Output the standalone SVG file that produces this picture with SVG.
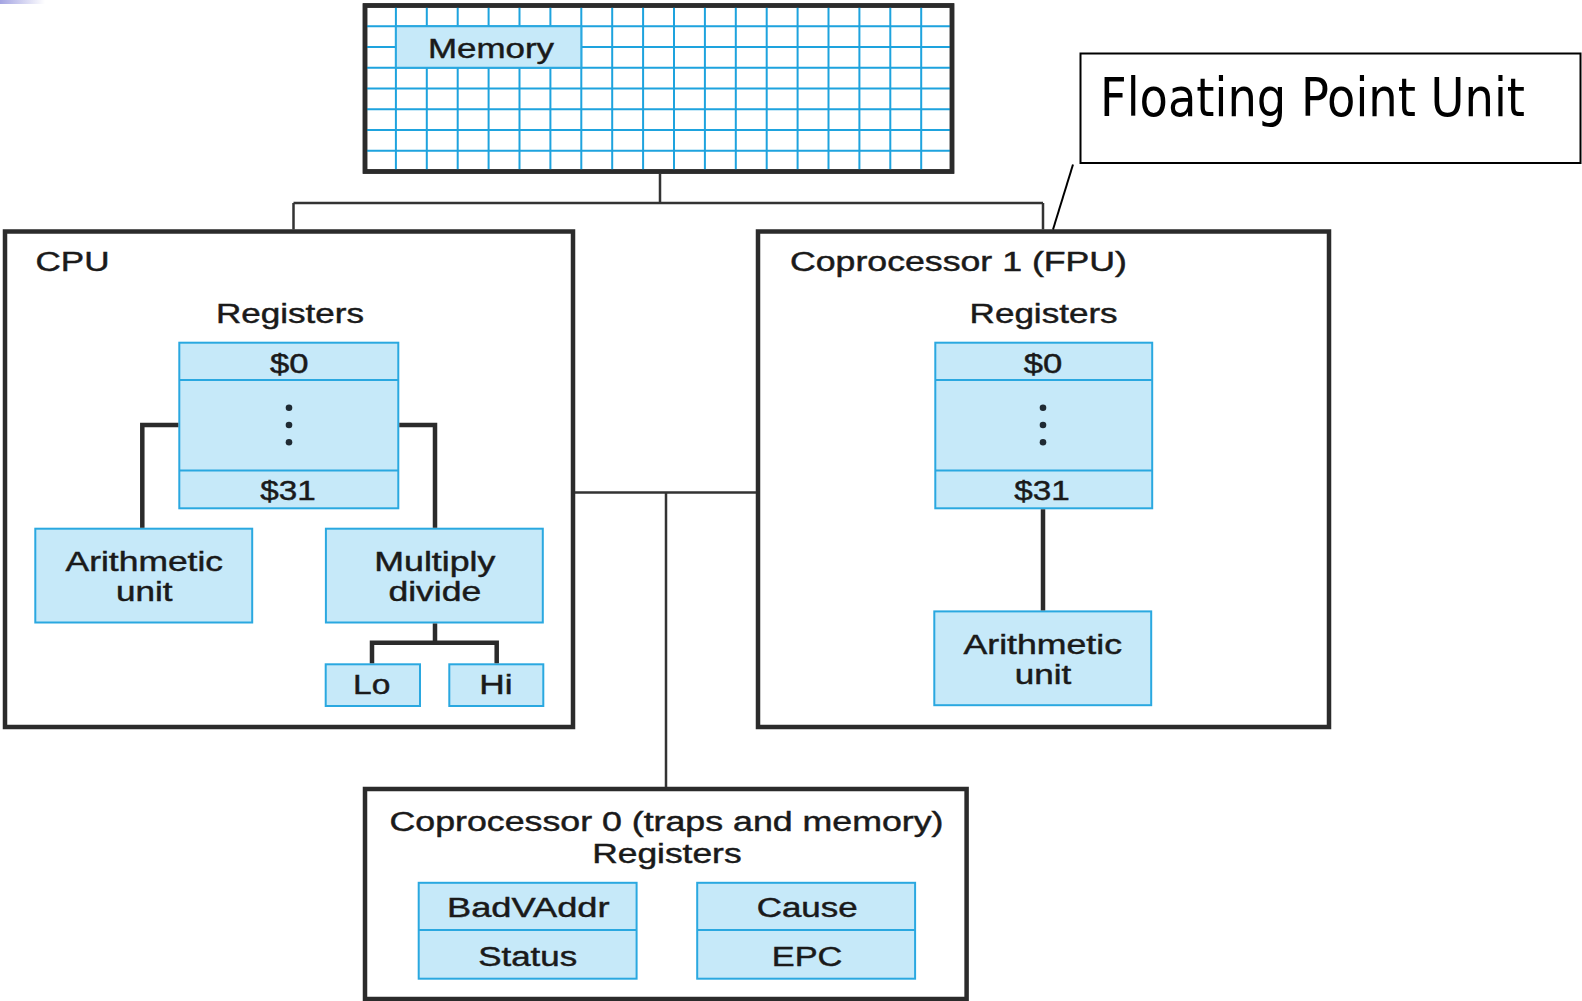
<svg xmlns="http://www.w3.org/2000/svg" width="1582" height="1001" viewBox="0 0 1582 1001">
<defs>
<linearGradient id="corner" x1="0" y1="0" x2="1" y2="0">
<stop offset="0" stop-color="#a4a4e2"/>
<stop offset="1" stop-color="#ffffff"/>
</linearGradient>
</defs>
<style>
.frame{fill:#ffffff;stroke:#2b2b2b;stroke-width:4.5}
.cell{fill:#c6e9f9;stroke:#2aa8e0;stroke-width:2}
.div{stroke:#2aa8e0;stroke-width:2}
.grid{stroke:#1ea3de;stroke-width:2}
.wire{fill:none;stroke:#2b2b2b;stroke-width:4.5}
.bus{fill:none;stroke:#333333;stroke-width:2.5}
.t{font-family:"Liberation Sans",Arial,sans-serif;font-size:27px;fill:#1a1a1a;stroke:#1a1a1a;stroke-width:0.45}
.dot{fill:#1f2a33}
</style>
<rect x="0" y="0" width="45" height="4" fill="url(#corner)"/>

<g id="memory">
<rect class="frame" x="365" y="5.5" width="587" height="166"/>
<g class="grid">
<path d="M395.9 5.5V171.5M426.8 5.5V171.5M457.7 5.5V171.5M488.6 5.5V171.5M519.5 5.5V171.5M550.4 5.5V171.5M581.3 5.5V171.5M612.2 5.5V171.5M643.1 5.5V171.5M674 5.5V171.5M704.9 5.5V171.5M735.8 5.5V171.5M766.7 5.5V171.5M797.6 5.5V171.5M828.5 5.5V171.5M859.4 5.5V171.5M890.3 5.5V171.5M921.2 5.5V171.5"/>
<path d="M365 26.25H952M365 47H952M365 67.75H952M365 88.5H952M365 109.25H952M365 130H952M365 150.75H952"/>
</g>
<rect x="365" y="5.5" width="587" height="166" fill="none" stroke="#2b2b2b" stroke-width="4.5"/>
<rect class="cell" x="395.9" y="26.25" width="185.4" height="41.5"/>
<text class="t" x="428" y="57.5" textLength="126" lengthAdjust="spacingAndGlyphs">Memory</text>
</g>

<g id="fpu-callout">
<rect x="1080.5" y="53.5" width="500" height="109.5" fill="#ffffff" stroke="#000000" stroke-width="2"/>
<text x="1100" y="115.5" font-family="'DejaVu Sans Condensed','DejaVu Sans',sans-serif" font-size="54" fill="#000000" textLength="425" lengthAdjust="spacingAndGlyphs">Floating Point Unit</text>
</g>

<g id="cpu">
<rect class="frame" x="5" y="231.5" width="568" height="495.5"/>
<text class="t" x="35.5" y="270.5" textLength="74" lengthAdjust="spacingAndGlyphs">CPU</text>
<text class="t" x="216" y="323.2" textLength="148" lengthAdjust="spacingAndGlyphs">Registers</text>
</g>

<g id="cpu-registers">
<rect class="cell" x="179.3" y="342.7" width="219" height="165.6"/>
<path class="div" d="M179.3 380H398.3M179.3 470.5H398.3"/>
<text class="t" x="270" y="372.7" textLength="38.5" lengthAdjust="spacingAndGlyphs">$0</text>
<circle class="dot" cx="289" cy="407.7" r="3.3"/>
<circle class="dot" cx="289" cy="425" r="3.3"/>
<circle class="dot" cx="289" cy="442.3" r="3.3"/>
<text class="t" x="260.3" y="499.5" textLength="55.5" lengthAdjust="spacingAndGlyphs">$31</text>
</g>

<g id="cpu-arith">
<rect class="cell" x="35.3" y="528.7" width="216.9" height="93.8"/>
<text class="t" x="65.6" y="571" textLength="157.4" lengthAdjust="spacingAndGlyphs">Arithmetic</text>
<text class="t" x="116" y="600.5" textLength="56.5" lengthAdjust="spacingAndGlyphs">unit</text>
</g>

<g id="cpu-muldiv">
<rect class="cell" x="325.9" y="528.7" width="216.9" height="93.8"/>
<text class="t" x="374.3" y="571" textLength="121" lengthAdjust="spacingAndGlyphs">Multiply</text>
<text class="t" x="388.4" y="600.5" textLength="92.8" lengthAdjust="spacingAndGlyphs">divide</text>
</g>

<g id="cpu-lo">
<rect class="cell" x="325.7" y="664.3" width="94.3" height="41.7"/>
<text class="t" x="353" y="693.5" textLength="37.3" lengthAdjust="spacingAndGlyphs">Lo</text>
</g>

<g id="cpu-hi">
<rect class="cell" x="449.3" y="664.3" width="94" height="41.7"/>
<text class="t" x="479.2" y="693.5" textLength="33.3" lengthAdjust="spacingAndGlyphs">Hi</text>
</g>

<g id="fpu">
<rect class="frame" x="758" y="231.5" width="571" height="495.5"/>
<text class="t" x="790" y="270.5" textLength="337" lengthAdjust="spacingAndGlyphs">Coprocessor 1 (FPU)</text>
<text class="t" x="969.6" y="323.2" textLength="148" lengthAdjust="spacingAndGlyphs">Registers</text>
</g>

<g id="fpu-registers">
<rect class="cell" x="935.3" y="342.7" width="216.9" height="165.6"/>
<path class="div" d="M935.3 380H1152.2M935.3 470.5H1152.2"/>
<text class="t" x="1023.8" y="372.7" textLength="38.5" lengthAdjust="spacingAndGlyphs">$0</text>
<circle class="dot" cx="1043" cy="407.7" r="3.3"/>
<circle class="dot" cx="1043" cy="425" r="3.3"/>
<circle class="dot" cx="1043" cy="442.3" r="3.3"/>
<text class="t" x="1014.3" y="499.5" textLength="55.5" lengthAdjust="spacingAndGlyphs">$31</text>
</g>

<g id="fpu-arith">
<rect class="cell" x="934.3" y="611.4" width="216.9" height="93.8"/>
<text class="t" x="963.5" y="654" textLength="158.5" lengthAdjust="spacingAndGlyphs">Arithmetic</text>
<text class="t" x="1014.8" y="683.5" textLength="56.5" lengthAdjust="spacingAndGlyphs">unit</text>
</g>

<g id="cop0">
<rect class="frame" x="365" y="789" width="601.6" height="210"/>
<text class="t" x="389.5" y="830.5" textLength="554" lengthAdjust="spacingAndGlyphs">Coprocessor 0 (traps and memory)</text>
<text class="t" x="592.2" y="863" textLength="149.4" lengthAdjust="spacingAndGlyphs">Registers</text>
</g>

<g id="cop0-badvaddr-status">
<rect class="cell" x="418.7" y="882.8" width="217.9" height="95.9"/>
<path class="div" d="M418.7 930H636.6"/>
<text class="t" x="447" y="917" textLength="162.5" lengthAdjust="spacingAndGlyphs">BadVAddr</text>
<text class="t" x="478.2" y="965.5" textLength="98.9" lengthAdjust="spacingAndGlyphs">Status</text>
</g>

<g id="cop0-cause-epc">
<rect class="cell" x="697.2" y="882.8" width="217.9" height="95.9"/>
<path class="div" d="M697.2 930H915.1"/>
<text class="t" x="756.7" y="917" textLength="100.9" lengthAdjust="spacingAndGlyphs">Cause</text>
<text class="t" x="771.8" y="965.5" textLength="70.6" lengthAdjust="spacingAndGlyphs">EPC</text>
</g>

<g id="connectors">
<path class="bus" d="M660 173V203M293.5 203H1043M293.5 203V229.5M1043 203V229.5"/>
<path class="bus" d="M575 492.5H756M666 492.5V787"/>
<path fill="none" stroke="#000000" stroke-width="2" d="M1073 164.5L1053 229.5"/>
<path class="wire" d="M178.3 425H142.3V527.7M399.3 425H435V527.7M435 623.5V642.7M372 663.3V642.7H496.7V663.3"/>
<path class="wire" d="M1043 509.3V610.4"/>
</g>
</svg>
